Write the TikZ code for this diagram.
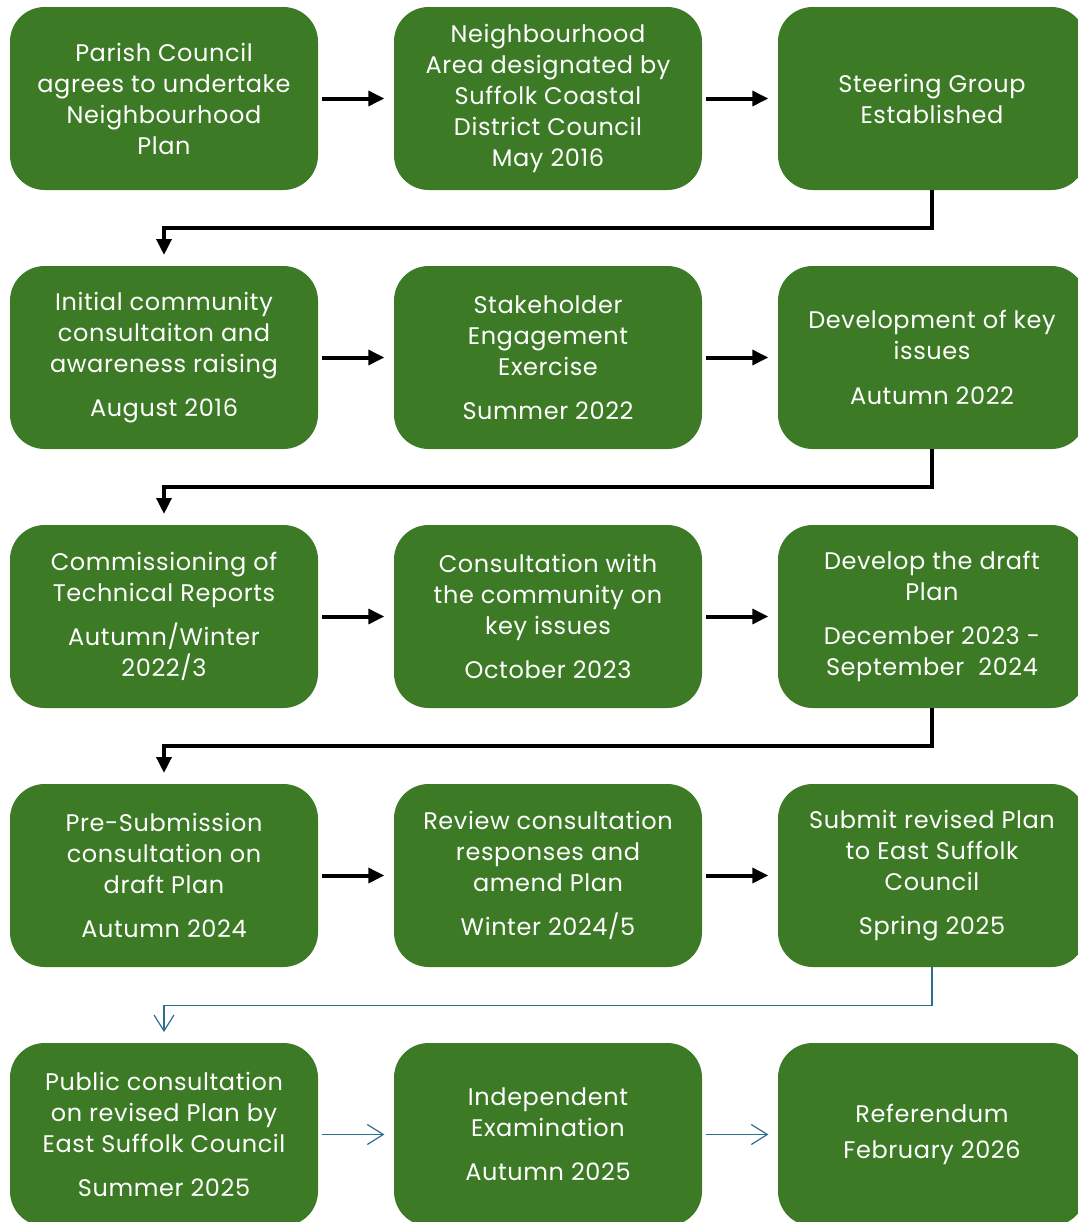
\documentclass[tikz,border=0pt]{standalone}
\usepackage{fontspec}
\setmainfont{Poppins}[LetterSpace=2.5]
\usetikzlibrary{arrows.meta}
\definecolor{plangreen}{RGB}{60,122,38}
\definecolor{planblue}{RGB}{47,108,145}
\tikzset{
  stepbox/.style={rectangle, rounded corners=26pt, fill=plangreen, draw=none,
    minimum width=231pt, minimum height=137.25pt, text=white, align=center,
    font=\fontsize{18}{23.25}\selectfont, inner sep=0pt},
  blackarrow/.style={line width=3pt, black, -{Triangle[length=12pt,width=11pt]}},
  bluearrow/.style={line width=0.9pt, planblue, -{Straight Barb[length=12pt,width=15pt,line width=0.9pt]}},
}
\begin{document}
\begin{tikzpicture}[x=0.75pt, y=-0.75pt]
		\useasboundingbox (0,0) rectangle (1078,1222);
		\clip (0,0) rectangle (1078,1222);
		%%%%% ROW 1 %%%%%
		\node[stepbox] (s1) at (164,98.5) {Parish Council\\agrees to undertake\\Neighbourhood\\Plan};
		\node[stepbox] (s2) at (548,98.5) {Neighbourhood\\Area designated by\\Suffolk Coastal\\District Council\\May 2016};
		\node[stepbox] (s3) at (932,98.5) {Steering Group\\Established};
		
		%%%%% ROW 2 %%%%%
		\node[stepbox] (s4) at (164,357.5) {Initial community\\consultaiton and\\awareness raising\\[10pt]August 2016};
		\node[stepbox] (s5) at (548,357.5) {Stakeholder\\Engagement\\Exercise\\[10pt]Summer 2022};
		\node[stepbox] (s6) at (932,357.5) {Development of key\\issues\\[10pt]Autumn 2022};
		
		%%%%% ROW 3 %%%%%
		\node[stepbox] (s7) at (164,616.5) {Commissioning of\\Technical Reports\\[10pt]Autumn/Winter\\2022/3};
		\node[stepbox] (s8) at (548,616.5) {Consultation with\\the community on\\key issues\\[10pt]October 2023};
		\node[stepbox] (s9) at (932,616.5) {Develop the draft\\Plan\\[10pt]December 2023 -\\September\ \ 2024};
		
		%%%%% ROW 4 %%%%%
		\node[stepbox] (s10) at (164,875.5) {Pre-Submission\\consultation on\\draft Plan\\[10pt]Autumn 2024};
		\node[stepbox] (s11) at (548,875.5) {Review consultation\\responses and\\amend Plan\\[10pt]Winter 2024/5};
		\node[stepbox] (s12) at (932,875.5) {Submit revised Plan\\to East Suffolk\\Council\\[10pt]Spring 2025};
		
		%%%%% ROW 5 %%%%%
		\node[stepbox] (s13) at (164,1134.5) {Public consultation\\on revised Plan by\\East Suffolk Council\\[10pt]Summer 2025};
		\node[stepbox] (s14) at (548,1134.5) {Independent\\Examination\\[10pt]Autumn 2025};
		\node[stepbox] (s15) at (932,1134.5) {Referendum\\[4pt]February 2026};
		
		%%%%% ARROWS %%%%%
		\draw[blackarrow, shorten <=3pt, shorten >=7pt] (s1) -- (s2);
		\draw[blackarrow, shorten <=3pt, shorten >=7pt] (s2) -- (s3);
		\draw[blackarrow, shorten >=8pt] (s3.south) -- ++(0,38) -| (s4.north);
		\draw[blackarrow, shorten <=3pt, shorten >=7pt] (s4) -- (s5);
		\draw[blackarrow, shorten <=3pt, shorten >=7pt] (s5) -- (s6);
		\draw[blackarrow, shorten >=8pt] (s6.south) -- ++(0,38) -| (s7.north);
		\draw[blackarrow, shorten <=3pt, shorten >=7pt] (s7) -- (s8);
		\draw[blackarrow, shorten <=3pt, shorten >=7pt] (s8) -- (s9);
		\draw[blackarrow, shorten >=8pt] (s9.south) -- ++(0,38) -| (s10.north);
		\draw[blackarrow, shorten <=3pt, shorten >=7pt] (s10) -- (s11);
		\draw[blackarrow, shorten <=3pt, shorten >=7pt] (s11) -- (s12);
		\draw[bluearrow, shorten >=8pt] (s12.south) -- ++(0,38) -| (s13.north);
		\draw[bluearrow, shorten <=3pt, shorten >=7pt] (s13) -- (s14);
		\draw[bluearrow, shorten <=3pt, shorten >=7pt] (s14) -- (s15);
\end{tikzpicture}
\end{document}
